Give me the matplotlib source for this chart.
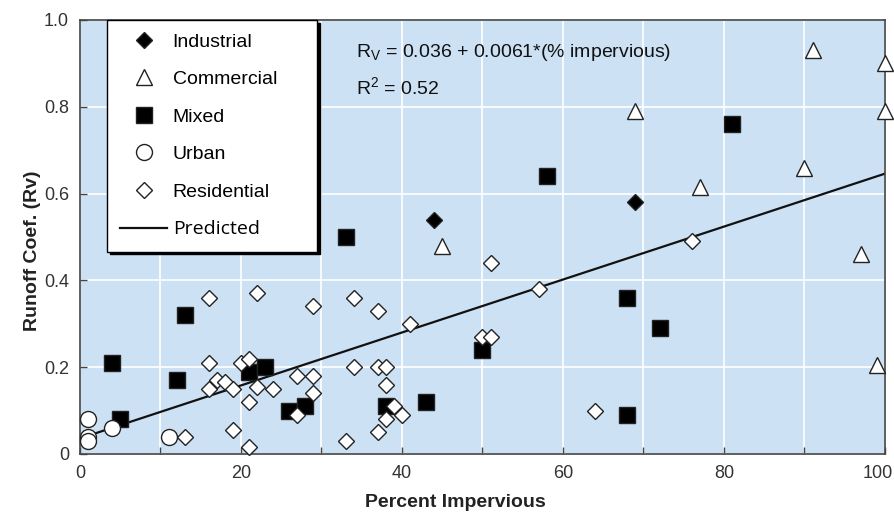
import matplotlib
matplotlib.use("Agg")
import matplotlib.pyplot as plt
import matplotlib.transforms as mtransforms
from matplotlib.lines import Line2D
import numpy as np

plt.rcParams['font.family'] = ['Liberation Sans', 'DejaVu Sans']
plt.rcParams['mathtext.default'] = 'regular'

# Runoff coefficient vs. percent impervious, by land use
industrial_x = [44, 69]
industrial_y = [0.54, 0.58]

commercial_x = [45, 69, 77, 91, 100, 100, 90, 97, 99]
commercial_y = [0.48, 0.79, 0.615, 0.93, 0.90, 0.79, 0.66, 0.46, 0.205]

mixed_x = [4, 5, 12, 13, 21, 23, 26, 28, 33, 38, 43, 50, 58, 68, 72, 68, 81]
mixed_y = [0.21, 0.08, 0.17, 0.32, 0.19, 0.20, 0.10, 0.11, 0.50, 0.11, 0.12,
           0.24, 0.64, 0.36, 0.29, 0.09, 0.76]

urban_x = [1, 1, 1, 4, 11]
urban_y = [0.08, 0.04, 0.03, 0.06, 0.04]

residential_x = [13, 16, 16, 16, 17, 18, 19, 19, 20, 21, 21, 21, 22, 22, 24,
                 27, 27, 29, 29, 29, 33, 34, 34, 37, 37, 37, 38, 38, 38, 39,
                 40, 41, 50, 51, 51, 57, 64, 76]
residential_y = [0.04, 0.36, 0.21, 0.15, 0.17, 0.165, 0.15, 0.055, 0.21, 0.22,
                 0.12, 0.015, 0.37, 0.155, 0.15, 0.18, 0.09, 0.34, 0.18, 0.14,
                 0.03, 0.36, 0.20, 0.33, 0.20, 0.05, 0.20, 0.16, 0.08, 0.11,
                 0.09, 0.30, 0.27, 0.27, 0.44, 0.38, 0.10, 0.49]

# Fitted model: Rv = a + b * (% impervious)
fit_a = 0.036
fit_b = 0.0061
r_squared = 0.52

x_ticks = [0, 10, 20, 30, 40, 50, 60, 70, 80, 90, 100]
x_ticklabels = ['0', '', '20', '', '40', '', '60', '', '80', '', '100']
y_ticks = [0, 0.2, 0.4, 0.6, 0.8, 1.0]
y_ticklabels = ['0', '0.2', '0.4', '0.6', '0.8', '1.0']

W, H = 895, 514
fig = plt.figure(figsize=(W / 100, H / 100), dpi=100)
ax = fig.add_axes([80 / W, 1 - 454 / H, 805 / W, 434 / H])
ax.set_facecolor('#cde1f5')
ax.set_xlim(0, 100)
ax.set_ylim(0, 1.0)

ax.set_xticks(x_ticks)
ax.set_xticklabels(x_ticklabels)
ax.set_yticks(y_ticks)
ax.set_yticklabels(y_ticklabels)
ax.grid(True, color='white', linewidth=1.2)
ax.set_axisbelow(True)
ax.tick_params(direction='in', length=5, width=1, color='#444444',
               labelsize=13, labelcolor='#333333')
ax.tick_params(axis='x', pad=8)
ax.tick_params(axis='y', pad=8)
for sp in ax.spines.values():
    sp.set_color('#444444')
    sp.set_linewidth(1.2)

# keep the last x tick label inside the figure
last = ax.get_xticklabels()[-1]
last.set_transform(last.get_transform() +
                   mtransforms.ScaledTranslation(-7 / 100, 0, fig.dpi_scale_trans))

# Regression line
xl = np.array([0, 100])
ax.plot(xl, fit_a + fit_b * xl, color='#111111', lw=1.6, zorder=2)

mew = 1.0
ec = '#222222'
ax.plot(mixed_x, mixed_y, 's', ms=11.3, mfc='black', mec=ec, mew=mew,
        zorder=3, clip_on=False)
ax.plot(residential_x, residential_y, 'D', ms=8.3, mfc='white', mec=ec,
        mew=mew, zorder=4, clip_on=False)
ax.plot(urban_x, urban_y, 'o', ms=11.5, mfc='white', mec=ec, mew=mew,
        zorder=4, clip_on=False)
ax.plot(commercial_x, commercial_y, '^', ms=12, mfc='white', mec=ec,
        mew=mew, zorder=4, clip_on=False)
ax.plot(industrial_x, industrial_y, 'D', ms=8.3, mfc='black', mec=ec,
        mew=mew, zorder=5, clip_on=False)

ax.text(0.343, 0.925, r'R$_V$ = 0.036 + 0.0061*(% impervious)',
        transform=ax.transAxes, fontsize=14, color='#111111', va='center')
ax.text(0.343, 0.845, r'R$^2$ = 0.52', transform=ax.transAxes,
        fontsize=14, color='#111111', va='center')

handles = [
    Line2D([], [], ls='none', marker='D', ms=8.3, mfc='black', mec=ec, mew=mew),
    Line2D([], [], ls='none', marker='^', ms=12, mfc='white', mec=ec, mew=mew),
    Line2D([], [], ls='none', marker='s', ms=11.3, mfc='black', mec=ec, mew=mew),
    Line2D([], [], ls='none', marker='o', ms=11.5, mfc='white', mec=ec, mew=mew),
    Line2D([], [], ls='none', marker='D', ms=8.3, mfc='white', mec=ec, mew=mew),
    Line2D([], [], color='#111111', lw=1.6),
]
labels = ['Industrial', 'Commercial', 'Mixed', 'Urban', 'Residential', 'Predicted']
leg = ax.legend(handles, labels, loc='upper left', mode='expand',
                bbox_to_anchor=(27 / 805, 0, 210 / 805, 1.0),
                fontsize=14, frameon=True, fancybox=False, framealpha=1,
                edgecolor='black', labelspacing=1.02, handlelength=2.4,
                handletextpad=0.3, borderpad=0.68, borderaxespad=0,
                shadow={'color': 'black', 'alpha': 1})
leg.get_frame().set_linewidth(1.0)
leg.set_zorder(6)
leg.get_texts()[-1].set_family('Open Sans')

ax.set_xlabel('Percent Impervious', fontsize=14, fontweight='bold',
              color='#222222')
ax.set_ylabel('Runoff Coef. (Rv)', fontsize=14, fontweight='bold',
              color='#222222')
ax.xaxis.set_label_coords(0.466, -0.092)
ax.yaxis.set_label_coords(-0.048, 0.468)

fig.savefig('out.png', dpi=100)
